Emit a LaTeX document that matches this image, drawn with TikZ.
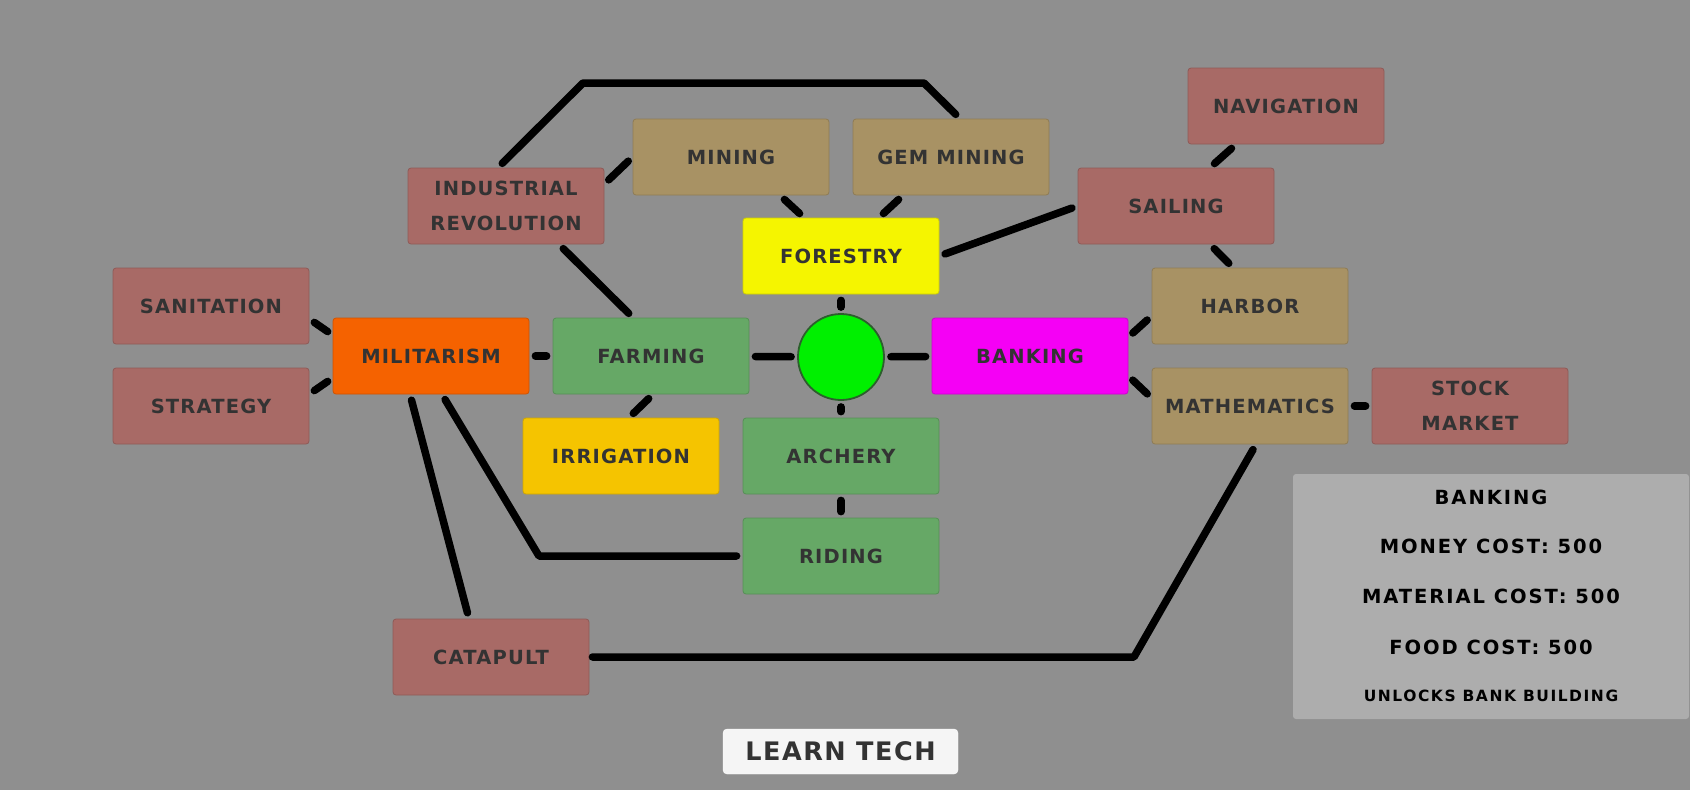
\documentclass[tikz,border=0pt]{standalone}
\usepackage{fontspec}
\newfontfamily\pix[LetterSpace=6]{DejaVu Sans}
\newfontfamily\pixw[LetterSpace=10]{DejaVu Sans}
\definecolor{bg}{RGB}{143,143,143}
\definecolor{redt}{RGB}{168,106,102}
\definecolor{tant}{RGB}{168,146,100}
\definecolor{grnt}{RGB}{102,168,102}
\definecolor{milc}{RGB}{245,98,0}
\definecolor{forc}{RGB}{245,245,0}
\definecolor{irrc}{RGB}{245,196,0}
\definecolor{bnkc}{RGB}{245,0,245}
\definecolor{hubc}{RGB}{0,240,0}
\definecolor{txt}{RGB}{51,51,51}
\definecolor{panel}{RGB}{173,173,173}
\definecolor{btn}{RGB}{245,245,245}
\begin{document}
\begin{tikzpicture}[x=1pt,y=-1pt,
  tech/.style={draw=#1!85!black,line width=0.8pt,fill=#1,rounded corners=3pt,
    minimum width=196pt,minimum height=76pt,inner sep=2pt,align=center,
    text=txt,font=\pix\bfseries\fontsize{19.5}{35}\selectfont},
  link/.style={line width=7.5pt,line cap=round,line join=round,
    shorten <=6pt,shorten >=6pt},
  info/.style={font=\pixw\bfseries\fontsize{19.5}{22}\selectfont,text=black}]
\useasboundingbox (0,0) rectangle (1690,790);
\fill[bg] (0,0) rectangle (1690,790);
% tech boxes
\node[tech=redt] (ir) at (506,206) {INDUSTRIAL\\REVOLUTION};
\node[tech=tant] (mine) at (731,157) {MINING};
\node[tech=tant] (gem) at (951,157) {GEM MINING};
\node[tech=redt] (nav) at (1286,106) {NAVIGATION};
\node[tech=redt] (sail) at (1176,206) {SAILING};
\node[tech=forc] (forest) at (841,256) {FORESTRY};
\node[tech=redt] (san) at (211,306) {SANITATION};
\node[tech=milc] (mil) at (431,356) {MILITARISM};
\node[tech=grnt] (farm) at (651,356) {FARMING};
\node[tech=bnkc] (bank) at (1030,356) {BANKING};
\node[tech=tant] (harbor) at (1250,306) {HARBOR};
\node[tech=redt] (strat) at (211,406) {STRATEGY};
\node[tech=tant] (math) at (1250,406) {MATHEMATICS};
\node[tech=redt] (stock) at (1470,406) {STOCK\\MARKET};
\node[tech=irrc] (irr) at (621,456) {IRRIGATION};
\node[tech=grnt] (arch) at (841,456) {ARCHERY};
\node[tech=grnt] (ride) at (841,556) {RIDING};
\node[tech=redt] (cat) at (491,657) {CATAPULT};
\node[circle,fill=hubc,draw={rgb,255:red,45;green,95;blue,45},line width=1.8pt,
  minimum size=86pt] (hub) at (841,357) {};
% links
\draw[link] ([yshift=-13pt]san.east) -- ([yshift=21pt]mil.west);
\draw[link] ([yshift=12pt]strat.east) -- ([yshift=-22pt]mil.west);
\draw[link] (mil) -- (farm);
\draw[link] (farm) -- (hub);
\draw[link] (hub) -- (bank);
\draw[link] (hub) -- (forest);
\draw[link] (hub) -- (arch);
\draw[link] (arch) -- (ride);
\draw[link] (math) -- (stock);
\draw[link] ([xshift=2pt]farm.south) -- ([xshift=8pt]irr.north);
\draw[link] ([yshift=22pt]ir.east) -- (mine.west);
\draw[link] ([xshift=49pt]mine.south) -- ([xshift=-37pt]forest.north);
\draw[link] ([xshift=-48pt]gem.south) -- ([xshift=38pt]forest.north);
\draw[link] ([yshift=19pt]bank.east) -- ([yshift=-10pt]harbor.west);
\draw[link] ([yshift=-20pt]bank.east) -- ([yshift=8pt]math.west);
\draw[link] ([xshift=34pt]sail.north) -- ([xshift=-50pt]nav.south);
\draw[link] ([xshift=34pt]sail.south) -- ([xshift=-17pt]harbor.north);
\draw[link] ([xshift=53pt]ir.south) -- ([xshift=-18pt]farm.north);
\draw[link] (forest.east) -- (sail.west);
\draw[link] ([xshift=-8pt]ir.north) -- (583,83) -- (924,83) -- ([xshift=9pt]gem.north);
\draw[link] ([xshift=11pt]mil.south) -- (539,556) -- (ride.west);
\draw[link] ([xshift=-21pt]mil.south) -- ([xshift=-22pt]cat.north);
\draw[link,shorten <=3pt] (cat.east) -- (1134,657) -- ([xshift=6pt]math.south);
% info panel
\node[fill=panel,rounded corners=3pt,minimum width=396pt,minimum height=245pt]
  (panel) at (1491,596.5) {};
\node[info] (pname) at (1491,497) {BANKING};
\node[info] (money) at (1491,546) {MONEY COST: 500};
\node[info] (matl) at (1491,596) {MATERIAL COST: 500};
\node[info] (food) at (1491,647) {FOOD COST: 500};
\node[info,font=\pixw\bfseries\fontsize{15.5}{18}\selectfont] (unlock) at (1491,696) {UNLOCKS BANK BUILDING};
\node[fill=btn,draw=white,rounded corners=4pt,minimum width=235pt,minimum height=45pt,
  text=txt,font=\pix\bfseries\fontsize{25.5}{30}\selectfont] (learn) at (840.5,751.5) {LEARN TECH};
\end{tikzpicture}
\end{document}
